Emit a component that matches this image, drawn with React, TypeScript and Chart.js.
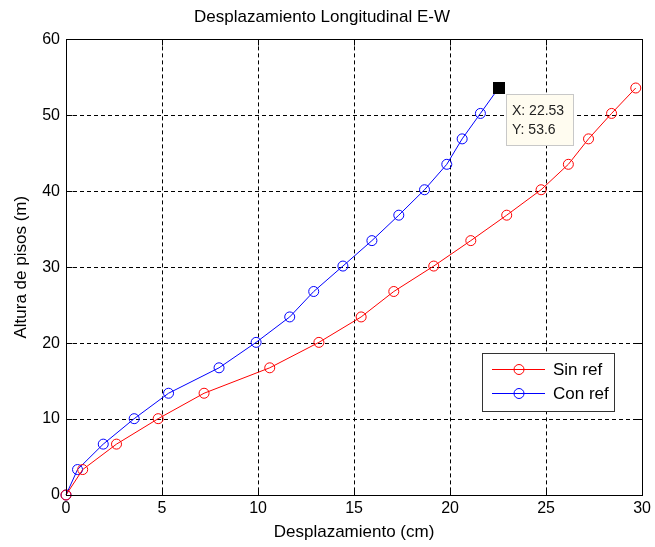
import React, { useEffect, useRef } from 'react';
import { Chart, registerables } from 'chart.js';

Chart.register(...registerables);

// Floor heights (m) and lateral displacement (cm) for each level
const floorHeights = [0, 3.35, 6.7, 10.05, 13.4, 16.75, 20.1, 23.45, 26.8, 30.15, 33.5, 36.85, 40.2, 43.55, 46.9, 50.25, 53.6];
const sinRef = [0, 0.87, 2.63, 4.8, 7.19, 10.61, 13.17, 15.37, 17.07, 19.15, 21.08, 22.95, 24.74, 26.16, 27.21, 28.41, 29.67];
const conRef = [0, 0.6, 1.94, 3.55, 5.34, 7.97, 9.9, 11.65, 12.9, 14.42, 15.93, 17.33, 18.67, 19.83, 20.63, 21.58, 22.53];

const seriesLabels = ['Sin ref', 'Con ref'];
const seriesColors = ['#ff0000', '#0000ff'];

const xTicks = [0, 5, 10, 15, 20, 25, 30];
const yTicks = [0, 10, 20, 30, 40, 50, 60];

// Data tip pinned to the top of the "Con ref" curve
const tipX = conRef[conRef.length - 1];
const tipY = floorHeights[floorHeights.length - 1];

const FONT = 'Liberation Sans, Arial, Helvetica, sans-serif';

const matlabAxes = {
  id: 'matlabAxes',
  afterDraw(chart: any) {
    const { ctx, chartArea, scales } = chart;
    const { left, right, top, bottom } = chartArea;
    const xs = scales.x;
    const ys = scales.y;
    ctx.save();
    ctx.setLineDash([]);
    ctx.strokeStyle = '#000';
    ctx.lineWidth = 1;

    // axes box
    const L = Math.round(left) + 0.5;
    const R = Math.round(right) + 0.5;
    const T = Math.round(top) + 0.5;
    const B = Math.round(bottom) + 0.5;
    ctx.strokeRect(L, T, R - L, B - T);

    // inward tick marks on all four sides
    const tl = 6;
    ctx.beginPath();
    for (const v of xTicks) {
      const px = Math.round(xs.getPixelForValue(v)) + 0.5;
      ctx.moveTo(px, B);
      ctx.lineTo(px, B - tl);
      ctx.moveTo(px, T);
      ctx.lineTo(px, T + tl);
    }
    for (const v of yTicks) {
      const py = Math.round(ys.getPixelForValue(v)) + 0.5;
      ctx.moveTo(L, py);
      ctx.lineTo(L + tl, py);
      ctx.moveTo(R, py);
      ctx.lineTo(R - tl, py);
    }
    ctx.stroke();

    // legend box (inside the axes, lower right)
    const lx = 482, ly = 353, lw = 132, lh = 58;
    ctx.fillStyle = '#ffffff';
    ctx.fillRect(lx, ly, lw, lh);
    ctx.strokeStyle = '#333333';
    ctx.strokeRect(lx + 0.5, ly + 0.5, lw, lh);
    ctx.font = `17px ${FONT}`;
    ctx.textBaseline = 'middle';
    ctx.textAlign = 'left';
    chart.data.datasets.forEach((ds: any, i: number) => {
      const cy = ly + 16.5 + i * 24;
      ctx.strokeStyle = ds.borderColor;
      ctx.lineWidth = 1;
      ctx.beginPath();
      ctx.moveTo(lx + 10, cy);
      ctx.lineTo(lx + 63, cy);
      ctx.stroke();
      ctx.beginPath();
      ctx.arc(lx + 37, cy, 5, 0, Math.PI * 2);
      ctx.stroke();
      ctx.fillStyle = '#000';
      ctx.fillText(ds.label, lx + 71, cy + 1);
    });

    // data tip
    const px = xs.getPixelForValue(tipX);
    const py = ys.getPixelForValue(tipY);
    ctx.fillStyle = '#000';
    ctx.fillRect(Math.round(px) - 6, Math.round(py) - 6, 12, 12);
    const bx = Math.round(px) + 7, by = Math.round(py) + 6, bw = 67, bh = 51;
    ctx.fillStyle = '#fffcf0';
    ctx.fillRect(bx, by, bw, bh);
    ctx.strokeStyle = '#c8c8c8';
    ctx.strokeRect(bx + 0.5, by + 0.5, bw, bh);
    ctx.fillStyle = '#222';
    ctx.font = `14px ${FONT}`;
    ctx.fillText(`X: ${tipX.toFixed(2)}`, bx + 6, by + 17);
    ctx.fillText(`Y: ${tipY}`, bx + 6, by + 36);
    ctx.restore();
  },
};

export default function App() {
  const ref = useRef<HTMLCanvasElement | null>(null);

  useEffect(() => {
    if (!ref.current) return;
    const mk = (xs: number[], i: number) => ({
      label: seriesLabels[i],
      data: xs.map((x, k) => ({ x, y: floorHeights[k] })),
      showLine: true,
      clip: false,
      borderColor: seriesColors[i],
      borderWidth: 1,
      pointRadius: 5,
      pointBorderWidth: 1,
      pointBorderColor: seriesColors[i],
      pointBackgroundColor: 'rgba(0,0,0,0)',
      tension: 0,
    });
    const chart = new Chart(ref.current, {
      type: 'scatter',
      data: { datasets: [mk(sinRef, 0), mk(conRef, 1)] },
      options: {
        animation: false,
        responsive: false,
        layout: { padding: { top: 0, right: 11, left: 0, bottom: 0 } },
        plugins: {
          legend: { display: false },
          tooltip: { enabled: false },
          title: {
            display: true,
            text: 'Desplazamiento Longitudinal E-W',
            color: '#000',
            font: { family: FONT, size: 17, weight: 'normal' },
            padding: { top: 7, bottom: 12 },
          },
        },
        scales: {
          x: {
            type: 'linear',
            min: 0,
            max: 30,
            afterBuildTicks: (s: any) => { s.ticks = xTicks.map((v) => ({ value: v })); },
            afterFit: (s: any) => { s.height = 52; },
            ticks: { color: '#000', font: { family: FONT, size: 16 }, padding: 4 },
            grid: { color: '#000', lineWidth: 1, drawTicks: false },
            border: { display: false, dash: [4, 3] },
            title: {
              display: true,
              text: 'Desplazamiento (cm)',
              color: '#000',
              font: { family: FONT, size: 17 },
              padding: { top: 0, bottom: 4 },
            },
          },
          y: {
            type: 'linear',
            min: 0,
            max: 60,
            afterBuildTicks: (s: any) => { s.ticks = yTicks.map((v) => ({ value: v })); },
            afterFit: (s: any) => { s.width = 66; },
            ticks: { color: '#000', font: { family: FONT, size: 16 }, padding: 6 },
            grid: { color: '#000', lineWidth: 1, drawTicks: false },
            border: { display: false, dash: [4, 3] },
            title: {
              display: true,
              text: 'Altura de pisos (m)',
              color: '#000',
              font: { family: FONT, size: 17 },
              padding: { top: 11, bottom: 0 },
            },
          },
        },
      },
      plugins: [matlabAxes],
    } as any);
    return () => chart.destroy();
  }, []);

  return (
    <div style={{ position: 'absolute', left: 0, top: 0, width: 655, height: 547, background: '#fff' }}>
      <canvas ref={ref} width={655} height={547} style={{ display: 'block', width: 655, height: 547 }} />
    </div>
  );
}
